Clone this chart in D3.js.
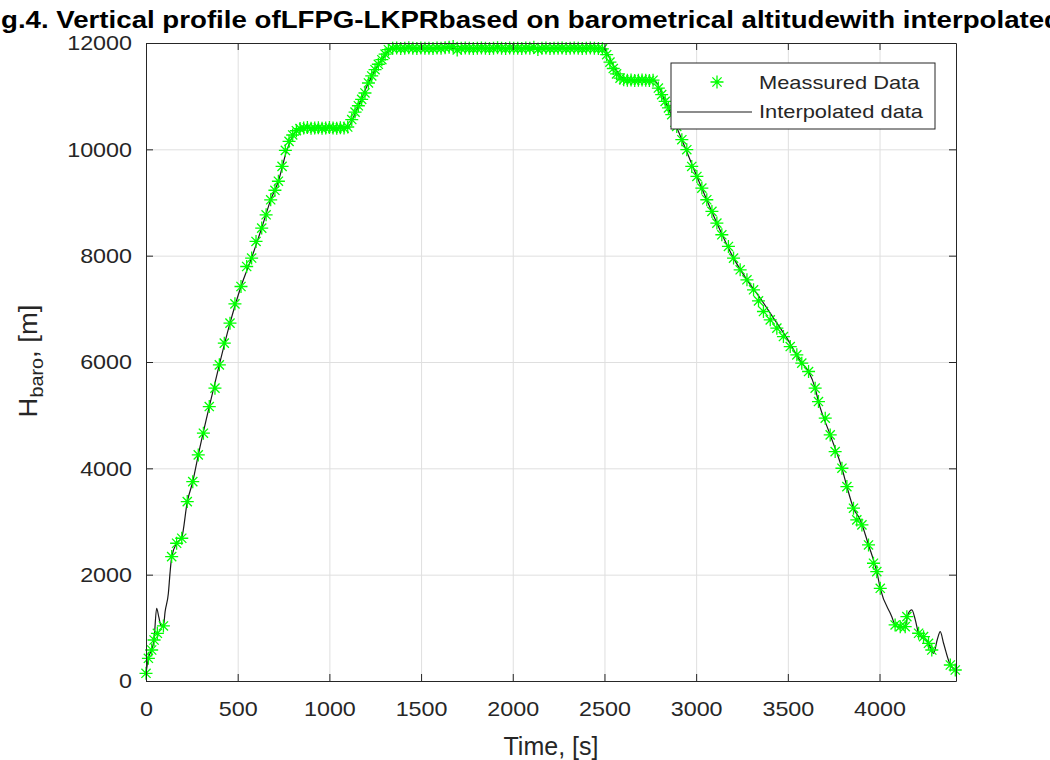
<!DOCTYPE html>
<html>
<head>
<meta charset="utf-8">
<script src="https://cdn.jsdelivr.net/npm/d3@7"></script>
<style>
  body { margin: 0; background: #fff; }
  svg text { font-family: "Liberation Sans", Arial, Helvetica, sans-serif; }
</style>
</head>
<body>
<script>

const measT = [0, 13, 31, 44, 62, 95, 140, 167, 195, 225, 255, 285, 313, 345, 376, 400, 427, 458, 485, 518,
  549, 576, 600, 631, 655, 680, 703, 722, 742, 760, 780, 800, 820,
  840, 860, 880, 900, 920, 940, 960, 980, 1000, 1020, 1040, 1060, 1080, 1100,
  1122, 1140, 1158, 1176, 1194, 1213, 1231, 1249, 1267, 1286, 1304, 1322,
  1345, 1367, 1389, 1411, 1433, 1455, 1477, 1499, 1521, 1543, 1565, 1587, 1609, 1631, 1653, 1675, 1697, 1719,
  1741, 1763, 1785, 1807, 1829, 1851, 1873, 1895, 1917, 1939, 1961, 1983, 2005, 2027, 2049, 2071, 2093, 2115,
  2137, 2159, 2181, 2203, 2225, 2247, 2269, 2291, 2313, 2335, 2357, 2379, 2401, 2423, 2445, 2467, 2489,
  2512, 2530, 2548, 2566, 2585, 2605, 2625, 2645, 2665, 2685, 2705, 2725, 2745, 2765,
  2794, 2812, 2831, 2849, 2867, 2894, 2922, 2949, 2976, 3004, 3031, 3058, 3086, 3113, 3140, 3176, 3204, 3240,
  3277, 3313, 3340, 3367, 3404, 3440, 3476, 3513, 3549, 3576, 3613, 3649, 3667, 3704, 3731, 3758, 3795, 3822,
  3858, 3876, 3904, 3940, 3967, 3985, 4004, 4085, 4113, 4140, 4149, 4213, 4240, 4267, 4285, 4386, 4413];

const measH = [145, 427, 583, 771, 897, 1035, 2340, 2591, 2685, 3374, 3750, 4253, 4661, 5162, 5508, 5946, 6355, 6731, 7094, 7420,
  7796, 7955, 8267, 8519, 8769, 9051, 9230, 9400, 9680, 9980, 10150, 10270, 10350,
  10390, 10400, 10410, 10395, 10400, 10405, 10395, 10400, 10410, 10400, 10395, 10405, 10400, 10420,
  10560, 10700, 10820, 10940, 11060, 11248, 11380, 11498, 11600, 11686, 11790, 11874,
  11900, 11905, 11895, 11900, 11910, 11900, 11895, 11905, 11900, 11900, 11895, 11905, 11900, 11910, 11920, 11935, 11870, 11900,
  11905, 11900, 11895, 11900, 11905, 11900, 11895, 11900, 11910, 11900, 11895, 11905, 11900, 11900, 11895, 11905, 11900, 11920,
  11880, 11900, 11905, 11895, 11900, 11900, 11905, 11895, 11900, 11905, 11900, 11895, 11900, 11905, 11900, 11895, 11890,
  11780, 11640, 11520, 11420, 11340, 11310, 11300, 11305, 11295, 11300, 11305, 11300, 11295, 11300,
  11153, 11030, 10902, 10780, 10651, 10431, 10181, 9993, 9678, 9490, 9271, 9052, 8832, 8613, 8393, 8173, 7954, 7734,
  7546, 7358, 7150, 6950, 6793, 6637, 6479, 6291, 6135, 5978, 5821, 5508, 5256, 4944, 4629, 4315, 4002, 3657,
  3250, 3030, 2936, 2559, 2215, 2057, 1744, 1054, 1022, 1022, 1210, 898, 834, 709, 583, 301, 207];

// Interpolated curve, vertices (incl. the overshoots)
const lineT = [0, 13, 31, 44, 58, 70, 82, 95, 104, 122, 131, 140, 167, 195, 225, 255, 285, 345, 400, 458, 518, 576,
  631, 680, 722, 765, 805, 840, 1095, 1149, 1213, 1286, 1349, 2494, 2545, 2595, 2622, 2770, 2831, 2922, 3004,
  3113, 3204, 3277, 3349, 3422, 3495, 3576, 3613, 3649, 3667, 3731, 3795, 3822, 3858, 3895, 3940, 3985, 4004,
  4067, 4085, 4113, 4140, 4155, 4176, 4195, 4213, 4267, 4295, 4315, 4331, 4350, 4386, 4413];
const lineH = [145, 430, 590, 780, 1368, 1200, 1040, 1030, 1300, 1650, 2030, 2330, 2590, 2700, 3370, 3750, 4250,
  5160, 5950, 6730, 7420, 7960, 8520, 9050, 9400, 9950, 10280, 10400, 10400, 10745, 11248, 11686, 11900, 11900,
  11600, 11350, 11310, 11300, 10902, 10181, 9490, 8613, 7954, 7546, 7202, 6825, 6449, 5978, 5821, 5508, 5256,
  4629, 4002, 3657, 3250, 3030, 2559, 2057, 1744, 1210, 1054, 1010, 1030, 1250, 1336, 1150, 898, 709, 521,
  780, 928, 700, 301, 207];

const xTicks = [0, 500, 1000, 1500, 2000, 2500, 3000, 3500, 4000];
const yTicks = [0, 2000, 4000, 6000, 8000, 10000, 12000];

const titleText = "Fig.4. Vertical profile ofLFPG-LKPRbased on barometrical altitudewith interpolated";
const legendLabels = ["Meassured Data", "Interpolated data"];

// Set up the chart parameters

let svgWidth = 1050;
let svgHeight = 760;

let margin = { top: 43, right: 94, bottom: 79, left: 146 };

let width = svgWidth - margin.left - margin.right;
let height = svgHeight - margin.top - margin.bottom;

const axisColor = "#262626";
const starPath = "M-6.5,0H6.5M0,-6.5V6.5M-4.6,-4.6L4.6,4.6M-4.6,4.6L4.6,-4.6";

// widen text a little, the reference glyphs are broader than Liberation Sans
function stretch(sel, k) {
  sel.each(function() {
    let w = this.getComputedTextLength();
    d3.select(this).attr("textLength", w * k).attr("lengthAdjust", "spacingAndGlyphs");
  });
}

let svg = d3.select("body")
  .append("svg")
  .attr("width", svgWidth)
  .attr("height", svgHeight);

let chartGroup = svg.append("g")
  .attr("transform", `translate(${margin.left}, ${margin.top})`);

// Scales

let xLinearScale = d3.scaleLinear().domain([0, 4417]).range([0, width]);
let yLinearScale = d3.scaleLinear().domain([0, 12000]).range([height, 0]);

// Grid

chartGroup.append("g")
  .attr("transform", `translate(0, ${height})`)
  .call(d3.axisBottom(xLinearScale).tickValues(xTicks).tickSize(-height).tickFormat(""))
  .call(g => g.select(".domain").remove())
  .selectAll("line").attr("stroke", "#dfdfdf");

chartGroup.append("g")
  .call(d3.axisLeft(yLinearScale).tickValues(yTicks).tickSize(-width).tickFormat(""))
  .call(g => g.select(".domain").remove())
  .selectAll("line").attr("stroke", "#dfdfdf");

// Interpolated line

let lineData = lineT.map((t, i) => [t, lineH[i]]);

chartGroup.append("path")
  .datum(lineData)
  .attr("fill", "none")
  .attr("stroke", "#1a1a1a")
  .attr("stroke-width", 1.2)
  .attr("d", d3.line()
    .x(d => xLinearScale(d[0]))
    .y(d => yLinearScale(d[1]))
    .curve(d3.curveMonotoneX));

// Measured points

chartGroup.selectAll(".star")
  .data(measT.map((t, i) => [t, measH[i]]))
  .enter().append("path")
  .classed("star", true)
  .attr("d", starPath)
  .attr("transform", d => `translate(${xLinearScale(d[0])}, ${yLinearScale(d[1])})`)
  .attr("fill", "none")
  .attr("stroke", "#00ff00")
  .attr("stroke-width", 1.3);

// Axes, ticks inward on all four sides

let bottomAxis = d3.axisBottom(xLinearScale).tickValues(xTicks).tickFormat(d3.format("d"))
  .tickSizeInner(-7).tickSizeOuter(0).tickPadding(20);
let leftAxis = d3.axisLeft(yLinearScale).tickValues(yTicks).tickFormat(d3.format("d"))
  .tickSizeInner(-7).tickSizeOuter(0).tickPadding(14);

let xAxisG = chartGroup.append("g")
  .attr("transform", `translate(0, ${height})`)
  .call(bottomAxis);

let yAxisG = chartGroup.append("g")
  .call(leftAxis);

chartGroup.append("g")
  .call(d3.axisTop(xLinearScale).tickValues(xTicks).tickSizeInner(-7).tickSizeOuter(0).tickFormat(""));

chartGroup.append("g")
  .attr("transform", `translate(${width}, 0)`)
  .call(d3.axisRight(yLinearScale).tickValues(yTicks).tickSizeInner(-7).tickSizeOuter(0).tickFormat(""));

chartGroup.selectAll(".domain").attr("stroke", axisColor);
chartGroup.selectAll(".tick line").filter(function() { return d3.select(this).attr("stroke") === "currentColor"; })
  .attr("stroke", axisColor);

[xAxisG, yAxisG].forEach(g => {
  g.selectAll("text")
    .attr("font-size", 21)
    .attr("font-family", "Liberation Sans, Arial, sans-serif")
    .attr("fill", axisColor)
    .call(stretch, 1.11);
});

// Legend

let legend = svg.append("g").attr("transform", "translate(671, 63)");

legend.append("rect")
  .attr("width", 264)
  .attr("height", 66)
  .attr("fill", "#fff")
  .attr("stroke", axisColor)
  .attr("stroke-width", 1);

legend.append("path")
  .attr("d", starPath)
  .attr("transform", "translate(46, 19)")
  .attr("fill", "none")
  .attr("stroke", "#00ff00")
  .attr("stroke-width", 1.3);

legend.append("line")
  .attr("x1", 6).attr("x2", 81)
  .attr("y1", 49).attr("y2", 49)
  .attr("stroke", "#1a1a1a")
  .attr("stroke-width", 1.2);

legend.selectAll(".legText")
  .data(legendLabels)
  .enter().append("text")
  .attr("x", 88)
  .attr("y", (d, i) => 26 + i * 29)
  .attr("font-size", 19)
  .attr("fill", axisColor)
  .text(d => d)
  .call(stretch, 1.15);

// Axis labels

svg.append("text")
  .attr("x", 551)
  .attr("y", 755)
  .attr("text-anchor", "middle")
  .attr("font-size", 25)
  .attr("fill", axisColor)
  .text("Time, [s]");

let yLabel = svg.append("text")
  .attr("transform", "translate(37, 361) rotate(-90)")
  .attr("text-anchor", "middle")
  .attr("font-size", 25)
  .attr("fill", axisColor);
yLabel.append("tspan").text("H");
yLabel.append("tspan").attr("font-size", 18).attr("dy", 6).text("baro");
yLabel.append("tspan").attr("dy", -6).text(", [m]");
yLabel.call(stretch, 1.1);

// Title, its start and end run off the page as in the reference

let title = svg.append("text")
  .attr("y", 28)
  .attr("font-size", 24)
  .attr("font-weight", "bold")
  .attr("fill", "#000")
  .text(titleText);

let probe = svg.append("text").attr("font-size", 24).attr("font-weight", "bold").text("Fi");
let wFi = probe.node().getComputedTextLength();
probe.remove();

let wFull = title.node().getComputedTextLength();
let k = 1060 / (wFull - wFi);
title.attr("textLength", wFull * k)
  .attr("lengthAdjust", "spacingAndGlyphs")
  .attr("x", 1 - wFi * k);
</script>
</body>
</html>
